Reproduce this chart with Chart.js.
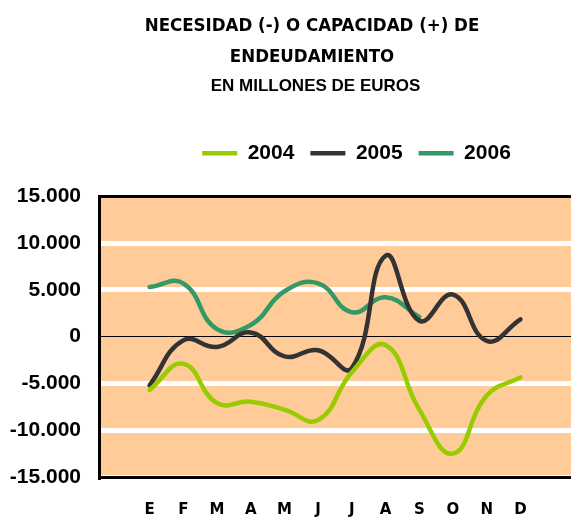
<!DOCTYPE html>
<html>
<head>
<meta charset="utf-8">
<script src="https://cdn.jsdelivr.net/npm/chart.js@4.4.1/dist/chart.umd.min.js"></script>
<style>
html,body{margin:0;padding:0;background:#fff;overflow:hidden;}
#wrap{position:relative;width:571px;height:525px;}
</style>
</head>
<body>
<div id="wrap"><canvas id="c" width="571" height="525"></canvas></div>
<script>
const months = ['E','F','M','A','M','J','J','A','S','O','N','D'];
const seriesNames = ['2004','2005','2006'];
const s2004 = [-5700,-2900,-7100,-6950,-7800,-8900,-3800,-900,-7800,-12500,-6300,-4350];
const s2005 = [-5200,-400,-1100,450,-2100,-1450,-3350,8650,1700,4500,-450,1850];
const s2006 = [5300,5700,800,1250,4850,5700,2600,4200,2100,null,null,null];
const yTickValues = [-15000,-10000,-5000,0,5000,10000,15000];
const yTickLabels = ['-15.000','-10.000','-5.000','0','5.000','10.000','15.000'];
const titleLines = ['NECESIDAD (-) O CAPACIDAD (+) DE','ENDEUDAMIENTO'];
const subtitleText = 'EN MILLONES DE EUROS';

const colors = ['#99CC00','#333333','#339966'];
// pad with one empty category on each side
const labels = [''].concat(months, ['']);
const pad = arr => [null].concat(arr, [null]);

const bgPlugin = {
  id: 'plotBg',
  beforeDraw(chart) {
    const {ctx, chartArea: a} = chart;
    ctx.save();
    ctx.fillStyle = '#FFCC99';
    ctx.fillRect(a.left, a.top, a.right - a.left, a.bottom - a.top);
    ctx.restore();
  }
};
const shiftPlugin = {
  id: 'shiftBoxes',
  afterLayout(chart) {
    const sh = (box, dx, dy) => { if (!box) return; box.left += dx; box.right += dx; box.top += dy; box.bottom += dy; };
    chart.boxes.forEach(b => {
      if (b === chart.titleBlock) sh(b, 25.5, 0);
      else if (b.options && b.options.text === subtitleText) sh(b, 29, 0);
    });
    sh(chart.legend, 70, -22.5);
  }
};

new Chart(document.getElementById('c'), {
  type: 'line',
  data: {
    labels: labels,
    datasets: [s2004, s2005, s2006].map((d, i) => ({
      label: seriesNames[i],
      data: pad(d),
      borderColor: colors[i],
      backgroundColor: colors[i],
      borderWidth: 4.5,
      borderCapStyle: 'round',
      pointRadius: 0,
      tension: 0.45,
      fill: false
    }))
  },
  options: {
    responsive: false,
    animation: false,
    devicePixelRatio: 1,
    layout: {padding: {left: 0, right: -2, top: 0, bottom: 0}},
    plugins: {
      title: {
        display: true,
        text: titleLines,
        color: '#000',
        font: {family: '"DejaVu Sans Condensed", "DejaVu Sans", sans-serif', size: 18.5, weight: 'bold', lineHeight: 1.66},
        padding: {top: 11, bottom: 4}
      },
      subtitle: {
        display: true,
        text: subtitleText,
        color: '#000',
        font: {family: '"Liberation Sans", Arial, sans-serif', size: 17, weight: 'bold', lineHeight: 1.2},
        padding: {top: 0, bottom: 52.5}
      },
      legend: {
        display: true,
        position: 'top',
        labels: {
          color: '#000',
          font: {family: '"Liberation Sans", Arial, sans-serif', size: 21, weight: 'bold'},
          usePointStyle: true,
          pointStyle: 'line',
          pointStyleWidth: 35,
          boxHeight: 21,
          padding: 16
        }
      },
      tooltip: {enabled: false}
    },
    scales: {
      x: {
        type: 'category',
        offset: true,
        grid: {display: false, drawTicks: false},
        border: {display: true, color: '#000', width: 3},
        ticks: {
          color: '#000',
          autoSkip: false,
          maxRotation: 0,
          padding: 24,
          font: {family: '"DejaVu Sans", sans-serif', size: 15, weight: 'bold'}
        },
        afterFit(scale) { scale.height = 48; scale.paddingLeft = 0; scale.paddingRight = 0; }
      },
      y: {
        min: -15000,
        max: 15000,
        afterBuildTicks(scale) { scale.ticks = yTickValues.map(v => ({value: v})); },
        grid: {
          drawTicks: false,
          color: ctx => {
            const v = ctx.tick && ctx.tick.value;
            if (v === 0 || v === 15000) return '#000';
            return '#FFFFFF';
          },
          lineWidth: ctx => {
            const v = ctx.tick && ctx.tick.value;
            if (v === 0) return 1;
            if (v === 15000) return 3;
            return 5;
          }
        },
        border: {display: true, color: '#000', width: 3},
        ticks: {
          color: '#000',
          padding: 18,
          font: {family: '"Liberation Sans", Arial, sans-serif', size: 21, weight: 'bold'},
          callback: (v) => { const i = yTickValues.indexOf(v); return i >= 0 ? yTickLabels[i] : ''; }
        },
        afterFit(scale) { scale.width = 99; }
      }
    }
  },
  plugins: [bgPlugin, shiftPlugin]
});
</script>
</body>
</html>
